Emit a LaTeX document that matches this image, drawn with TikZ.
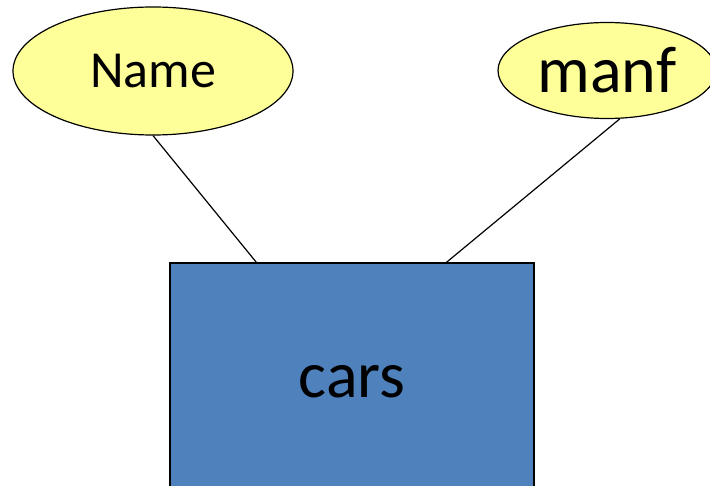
\documentclass[tikz,border=0pt]{standalone}
\usepackage{fontspec}
\setmainfont{Carlito}
\usetikzlibrary{shapes.geometric,calc}
\definecolor{attrfill}{HTML}{FFFF99}
\definecolor{entfill}{HTML}{4F81BD}
\begin{document}
\begin{tikzpicture}[x=1pt,y=-1pt,
  attr/.style={ellipse,draw=black,line width=1.2pt,fill=attrfill,inner sep=0pt},
  entity/.style={rectangle,draw=black,line width=1.2pt,fill=entfill,inner sep=0pt},
  link/.style={draw=black,line width=1.2pt}]
\useasboundingbox (0,0) rectangle (710,486);
\begin{scope}
\clip (0,0) rectangle (710,486);
\node[entity,minimum width=364pt,minimum height=238pt] (cars) at (352,382)
  {\fontsize{66}{72}\selectfont cars};
\node[attr,minimum width=280pt,minimum height=128pt] (name) at (153,71)
  {\fontsize{52}{58}\selectfont Name};
\node[attr,minimum width=218pt,minimum height=96pt] (manf) at (607,70.5)
  {\fontsize{66}{72}\selectfont manf};
\draw[link] (name.south) -- ($(cars.north west)+(87,0)$);
\draw[link] (manf.-75) -- ($(cars.north west)+(277,0)$);
\end{scope}
\end{tikzpicture}
\end{document}
